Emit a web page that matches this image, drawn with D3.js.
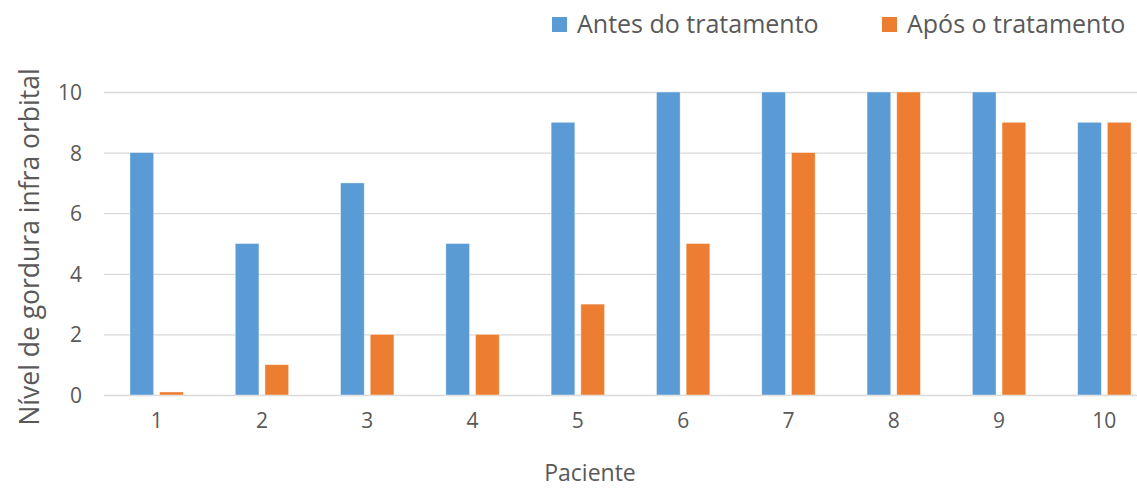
<!DOCTYPE html>
<html>
<head>
<meta charset="utf-8">
<script src="https://cdn.jsdelivr.net/npm/d3@7"></script>
<style>
  html, body { margin: 0; padding: 0; background: #fff; overflow: hidden; }
  svg { display: block; }
  svg text { font-family: "Open Sans", "Noto Sans", sans-serif; }
</style>
</head>
<body>
<svg id="chart" width="1137" height="488"></svg>
<script>
// Patients and infraorbital fat levels before / after treatment
const patients = ["1", "2", "3", "4", "5", "6", "7", "8", "9", "10"];
const antes = [8, 5, 7, 5, 9, 10, 10, 10, 10, 9];
const apos = [0.1, 1, 2, 2, 3, 5, 8, 10, 9, 9];
const seriesNames = ["Antes do tratamento", "Após o tratamento"];
const yTicks = [0, 2, 4, 6, 8, 10];

const colors = ["#5B9BD5", "#ED7D31"];
const textColor = "#595959";

const svg = d3.select("#chart");
const plot = { left: 104, right: 1157, top: 92, bottom: 395 };

const x = d3.scaleBand().domain(patients).range([plot.left, plot.right]).paddingInner(0).paddingOuter(0);
const y = d3.scaleLinear().domain([0, 10]).range([plot.bottom, plot.top]);

const barW = 23.7, barGap = 6;
const xs = d3.scaleOrdinal().domain([0, 1]).range([-(barW + barGap / 2), barGap / 2]);

// horizontal gridlines with value labels
const yAxis = d3.axisLeft(y).tickValues(yTicks).tickSize(-(plot.right - plot.left)).tickPadding(22);
const gy = svg.append("g").attr("transform", `translate(${plot.left},0)`).call(yAxis);
gy.attr("font-family", null);
gy.select(".domain").remove();
gy.selectAll(".tick line").attr("stroke", "#D9D9D9").attr("stroke-width", 1.3);
gy.selectAll(".tick text").attr("fill", textColor).style("font-size", "21px").attr("dy", "0.36em");

// category axis labels
const xAxis = d3.axisBottom(x).tickSize(0).tickPadding(18);
const gx = svg.append("g").attr("transform", `translate(0,${plot.bottom})`).call(xAxis);
gx.attr("font-family", null);
gx.select(".domain").remove();
gx.selectAll(".tick text").attr("fill", textColor).style("font-size", "21px");

// bars
const rows = patients.map((p, i) => ({ p, vals: [antes[i], apos[i]] }));
const groups = svg.append("g").selectAll("g").data(rows).join("g")
  .attr("transform", d => `translate(${x(d.p) + x.bandwidth() / 2},0)`);
groups.selectAll("rect").data(d => d.vals.map((v, k) => ({ v, k }))).join("rect")
  .attr("x", d => xs(d.k))
  .attr("y", d => y(d.v))
  .attr("width", barW)
  .attr("height", d => y(0) - y(d.v))
  .attr("fill", d => colors[d.k])
  .attr("stroke", "#fff")
  .attr("stroke-opacity", 0.5)
  .attr("stroke-width", 0.8);

// axis titles
svg.append("text")
  .attr("x", 590).attr("y", 481)
  .attr("text-anchor", "middle")
  .attr("fill", textColor)
  .style("font-size", "23px")
  .text("Paciente");

svg.append("text")
  .attr("transform", "translate(39,247) rotate(-90)")
  .attr("text-anchor", "middle")
  .attr("fill", textColor)
  .style("font-size", "26.5px")
  .text("Nível de gordura infra orbital");

// legend
const legendX = [552, 882];
const leg = svg.append("g").selectAll("g").data(seriesNames).join("g")
  .attr("transform", (d, i) => `translate(${legendX[i]},17)`);
leg.append("rect").attr("width", 15).attr("height", 15).attr("fill", (d, i) => colors[i]);
leg.append("text")
  .attr("x", 25).attr("y", 16)
  .attr("fill", textColor)
  .style("font-size", "25px")
  .text(d => d);
</script>
</body>
</html>
